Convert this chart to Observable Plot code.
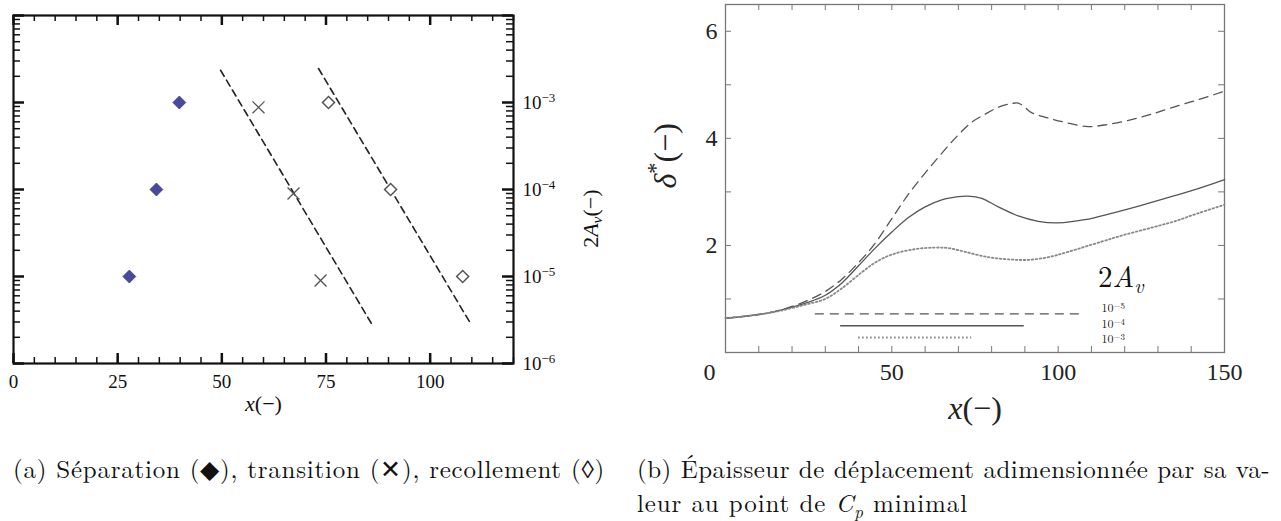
<!DOCTYPE html>
<html><head><meta charset="utf-8">
<script src="https://cdn.jsdelivr.net/npm/d3@7"></script>
<script src="https://cdn.jsdelivr.net/npm/@observablehq/plot@0.6"></script>
<style>
body{margin:0;background:#fff;width:1281px;height:521px;position:relative;overflow:hidden;}
#a{position:absolute;left:0;top:0;}
#b{position:absolute;left:630px;top:0;}
.cap{position:absolute;font-size:22px;color:#111;white-space:nowrap;line-height:28px;}
</style></head><body>
<div id="a"></div><div id="b"></div>
<div class="cap" id="capA" style="left:13px;top:454px">(a) Séparation (◆), transition (✕), recollement (◊)</div>
<div class="cap" id="capB1" style="left:637px;top:454px">(b) Épaisseur de déplacement adimensionnée par sa va-</div>
<div class="cap" id="capB2" style="left:637px;top:488px">leur au point de <i>C<sub style="font-size:0.68em;line-height:0">p</sub></i> minimal</div>
<script>
// ---------- Panel (a) data ----------
const sepX = [27.8, 34.3, 39.8];
const sepA = [1e-5, 1e-4, 1e-3];
const transX = [73.7, 67.2, 58.8];
const transA = [0.9e-5, 0.9e-4, 0.88e-3];
const recX = [107.8, 90.5, 75.6];
const recA = [1e-5, 1e-4, 1e-3];
const fit1X = [49.7, 86.2];
const fit1A = [2.35e-3, 2.73e-6];
const fit2X = [73.2, 109.7];
const fit2A = [2.46e-3, 2.88e-6];
const xTickLabelsA = [0, 25, 50, 75, 100];
const yTickLabelsA = [1e-6, 1e-5, 1e-4, 1e-3];

// ---------- Panel (b) data ----------
const xDashed = [0,10,15,20,25,30,35,40,44.5,50,55.5,62,69,74,78,82,86,88,90,92,97,102,109,115,122,128,134,142,150];
const dDashed = [0.64,0.71,0.77,0.86,0.98,1.14,1.37,1.68,2.0,2.5,3.0,3.5,4.0,4.3,4.45,4.58,4.65,4.66,4.58,4.48,4.38,4.3,4.22,4.26,4.35,4.45,4.57,4.72,4.88];
const xSolid = [0,10,15,20,25,30,35,40,45,50,55,60,65,70,73,77,82,88,94,100,108,116,125,135,143,150];
const dSolid = [0.64,0.71,0.77,0.85,0.94,1.07,1.3,1.62,1.95,2.25,2.52,2.72,2.85,2.91,2.92,2.88,2.72,2.55,2.45,2.42,2.48,2.6,2.75,2.93,3.08,3.23];
const xDotted = [0,10,15,20,25,30,35,41,45,50,57,63,67,72,79,85,91,97,103,113,120,128,135,142,150];
const dDotted = [0.64,0.71,0.76,0.83,0.91,1.0,1.2,1.5,1.68,1.83,1.93,1.96,1.95,1.88,1.78,1.74,1.73,1.78,1.88,2.07,2.2,2.33,2.45,2.6,2.76];
const seriesNames = ["1e-5", "1e-4", "1e-3"];
const legendExponents = ["−5", "−4", "−3"];
const xTickLabelsB = [50, 100, 150];
const yTickLabelsB = [2, 4, 6];

const TIMES = "'Liberation Serif', 'Times New Roman', serif";
const LM = "'Latin Modern Roman', 'Liberation Serif', serif";
const fmtPow = v => "10^" + String(Math.round(Math.log10(v))).replace("-", "−");

// ---------- Panel (a) ----------
const WA = 625, HA = 430, mlA = 13, mrA = 112, mtA = 15, mbA = 67;
const iwA = WA - mlA - mrA, ihA = HA - mtA - mbA;
const xMinorA = d3.range(0, 121, 5);
const xMajorA = d3.range(0, 121, 25);
const decades = [1e-6, 1e-5, 1e-4, 1e-3, 1e-2];
const yMinorA = decades.slice(0, -1).flatMap(d => d3.range(2, 10).map(k => k * d));

const zip = (xs, ys) => xs.map((x, i) => ({x, y: ys[i]}));
const tickCol = "#111";

const plotA = Plot.plot({
  width: WA, height: HA, marginLeft: mlA, marginRight: mrA, marginTop: mtA, marginBottom: mbA,
  x: {domain: [0, 120]},
  y: {type: "log", domain: [1e-6, 1e-2]},
  style: {fontSize: "19px", color: "#111", background: "white"},
  marks: [
    Plot.tickX(xMinorA, {x: d => d, insetTop: ihA - 6, stroke: tickCol, strokeWidth: 1.5}),
    Plot.tickX(xMinorA, {x: d => d, insetBottom: ihA - 6, stroke: tickCol, strokeWidth: 1.5}),
    Plot.tickX(xMajorA, {x: d => d, insetTop: ihA - 10, stroke: tickCol, strokeWidth: 2.5}),
    Plot.tickX(xMajorA, {x: d => d, insetBottom: ihA - 10, stroke: tickCol, strokeWidth: 2.5}),
    Plot.tickY(yMinorA, {y: d => d, insetRight: iwA - 7, stroke: tickCol, strokeWidth: 1.5}),
    Plot.tickY(yMinorA, {y: d => d, insetLeft: iwA - 7, stroke: tickCol, strokeWidth: 1.5}),
    Plot.tickY(decades, {y: d => d, insetRight: iwA - 11, stroke: tickCol, strokeWidth: 2.5}),
    Plot.tickY(decades, {y: d => d, insetLeft: iwA - 11, stroke: tickCol, strokeWidth: 2.5}),
    Plot.frame({stroke: "#111", strokeWidth: 2.2}),
    Plot.axisX({ticks: xTickLabelsA, tickSize: 0, tickPadding: 11, label: null, fontSize: 19}),
    Plot.axisY({anchor: "right", ticks: yTickLabelsA, tickSize: 0, tickPadding: 9, tickFormat: fmtPow, label: null, fontSize: 19}),
    Plot.line(zip(fit1X, fit1A), {x: "x", y: "y", stroke: "#222", strokeWidth: 1.6, strokeDasharray: "7,4.5"}),
    Plot.line(zip(fit2X, fit2A), {x: "x", y: "y", stroke: "#222", strokeWidth: 1.6, strokeDasharray: "7,4.5"}),
    Plot.dot(zip(sepX, sepA), {x: "x", y: "y", symbol: "diamond2", r: 5.8, fill: "#4a4a9c", stroke: "#3a3a80", strokeWidth: 0.8}),
    Plot.dot(zip(transX, transA), {x: "x", y: "y", symbol: "times", r: 5.5, stroke: "#555", strokeWidth: 1.3}),
    Plot.dot(zip(recX, recA), {x: "x", y: "y", symbol: "diamond2", r: 5.4, fill: "white", stroke: "#555", strokeWidth: 1.5}),
    Plot.text(["x(−)"], {frameAnchor: "bottom", dy: 47, fontSize: 22}),
    Plot.text(["2A_v(−)"], {frameAnchor: "right", dx: 77, rotate: -90, fontSize: 22})
  ]
});
document.getElementById("a").append(plotA);

// ---------- Panel (b) ----------
const WB = 651, HB = 430, mlB = 95, mrB = 57, mtB = 4, mbB = 78;
const iwB = WB - mlB - mrB, ihB = HB - mtB - mbB;
const xMinorB = d3.range(0, 151, 10);
const yMinorB = d3.range(0, 7, 1);
const rowsB = [
  ...xDashed.map((x, i) => ({x, y: dDashed[i], s: seriesNames[0]})),
  ...xSolid.map((x, i) => ({x, y: dSolid[i], s: seriesNames[1]})),
  ...xDotted.map((x, i) => ({x, y: dDotted[i], s: seriesNames[2]}))
];
const legend = [
  {s: seriesNames[0], x1: 27, x2: 107.5, y: 0.72},
  {s: seriesNames[1], x1: 34.6, x2: 89.8, y: 0.50},
  {s: seriesNames[2], x1: 40, x2: 74, y: 0.28}
];
const styleOf = {
  "1e-5": {stroke: "#555", strokeWidth: 1.3, strokeDasharray: "9,6"},
  "1e-4": {stroke: "#555", strokeWidth: 1.3},
  "1e-3": {stroke: "#888", strokeWidth: 1.8, strokeDasharray: "1.6,2.4"}
};
const grayB = "#777";
const plotB = Plot.plot({
  width: WB, height: HB, marginLeft: mlB, marginRight: mrB, marginTop: mtB, marginBottom: mbB,
  x: {domain: [0, 150]},
  y: {domain: [0, 6.5]},
  style: {fontSize: "24px", color: "#222", background: "white"},
  marks: [
    Plot.tickX(xMinorB, {x: d => d, insetTop: ihB - 6, stroke: grayB, strokeWidth: 1}),
    Plot.tickX(xMinorB, {x: d => d, insetBottom: ihB - 6, stroke: grayB, strokeWidth: 1}),
    Plot.tickY(yMinorB, {y: d => d, insetRight: iwB - 6, stroke: grayB, strokeWidth: 1}),
    Plot.tickY(yMinorB, {y: d => d, insetLeft: iwB - 6, stroke: grayB, strokeWidth: 1}),
    Plot.frame({stroke: grayB, strokeWidth: 1.3}),
    Plot.axisX({ticks: xTickLabelsB, tickSize: 0, tickPadding: 10, tickFormat: d => String(d), label: null, fontSize: 24}),
    Plot.axisX({ticks: [0], tickSize: 0, tickPadding: 10, dx: -16, tickFormat: d => String(d), label: null, fontSize: 24}),
    Plot.axisY({ticks: yTickLabelsB, tickSize: 0, tickPadding: 8, tickFormat: d => String(d), label: null, fontSize: 24}),
    ...seriesNames.map(s => Plot.line(rowsB.filter(r => r.s === s), {x: "x", y: "y", curve: "catmull-rom", ...styleOf[s]})),
    ...legend.map(l => Plot.ruleY([l], {y: "y", x1: "x1", x2: "x2", ...styleOf[l.s]})),
    Plot.text(["LEGEND"], {x: 113, y: 0.79, textAnchor: "start", fontSize: 12, fill: "#222"}),
    Plot.text(["2A_v"], {x: 112, y: 1.40, textAnchor: "start", fontSize: 29, fill: "#111"}),
    Plot.text(["δ*(−)"], {frameAnchor: "left", dx: -60, dy: 10, rotate: -90, fontSize: 32}),
    Plot.text(["x(−)"], {frameAnchor: "bottom", dy: 66, fontSize: 32})
  ]
});
document.getElementById("b").append(plotB);

// fonts applied inline
for (const p of [plotA, plotB]) {
  p.style.fontFamily = TIMES;
  d3.select(p).selectAll("text").each(function() { this.style.fontFamily = TIMES; });
}

// Rich text for math-like labels
function rich(svg, content, parts, family) {
  d3.select(svg).selectAll("text").each(function() {
    if (this.textContent !== content) return;
    const t = d3.select(this);
    if (family) this.style.fontFamily = family;
    const fs = parseFloat(t.attr("font-size")) || parseFloat(getComputedStyle(this).fontSize) || 20;
    t.text(null);
    parts.forEach(p => {
      const ts = t.append("tspan").text(p.t);
      if (p.i) ts.attr("font-style", "italic");
      if (p.sub) ts.attr("font-size", fs * 0.7).attr("dy", fs * 0.22);
      if (p.sup) ts.attr("font-size", fs * 0.7).attr("dy", -fs * 0.4);
      if (p.back) ts.attr("dy", p.back * fs);
    });
  });
}
rich(plotA, "x(−)", [{t: "x", i: true}, {t: "(−)"}]);
rich(plotA, "2A_v(−)", [{t: "2"}, {t: "A", i: true}, {t: "v", i: true, sub: true}, {t: "(−)", back: -0.22}]);
rich(plotB, "x(−)", [{t: "x", i: true}, {t: "(−)"}]);
rich(plotB, "2A_v", [{t: "2"}, {t: "A", i: true}, {t: "v", i: true, sub: true}], LM);
rich(plotB, "δ*(−)", [{t: "δ", i: true}, {t: "*", sup: true}, {t: "(−)", back: 0.4}]);

// power-of-ten tick labels in panel (a)
d3.select(plotA).selectAll("text").each(function() {
  const m = /^10\^(.*)$/.exec(this.textContent);
  if (!m) return;
  const t = d3.select(this);
  t.text(null);
  t.append("tspan").text("10");
  t.append("tspan").attr("font-size", 13).attr("dy", -7).text(m[1]);
});

// legend labels in panel (b): one text, three lines
d3.select(plotB).selectAll("text").each(function() {
  if (this.textContent !== "LEGEND") return;
  this.style.fontFamily = LM;
  const t = d3.select(this);
  t.text(null);
  legendExponents.forEach((e, i) => {
    t.append("tspan").attr("x", 0).attr("y", i * 15.5 + 2).text("10");
    t.append("tspan").attr("font-size", 9).attr("dy", -3).text(e);
  });
});

// captions: Computer-Modern-like font, fitted widths
const caps = ["capA", "capB1", "capB2"].map(id => document.getElementById(id));
caps.forEach(el => { el.style.fontFamily = LM; el.style.letterSpacing = "0px"; });
const wB1 = caps[1].getBoundingClientRect().width;
const fsCap = Math.min(25, 22 * 633 / wB1);
caps.forEach(el => { el.style.fontSize = fsCap + "px"; });
function fit(el, target) {
  const w = el.getBoundingClientRect().width;
  el.style.letterSpacing = ((target - w) / el.textContent.length) + "px";
}
fit(caps[0], 592);
fit(caps[1], 633);
fit(caps[2], 331);
</script>
</body></html>
